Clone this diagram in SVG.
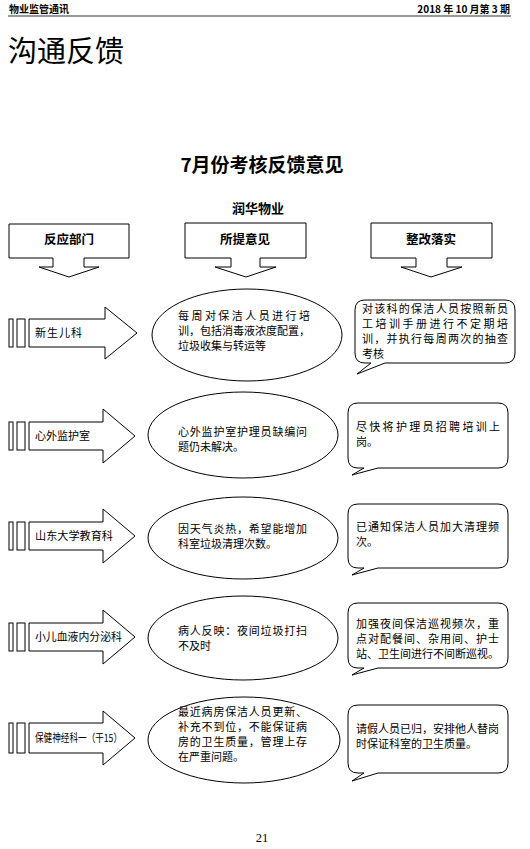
<svg xmlns="http://www.w3.org/2000/svg" width="530" height="849" viewBox="0 0 530 849">
<style>
text{font-family:"Noto Sans CJK SC","Liberation Sans",sans-serif;fill:#000}
.hd{font-size:10px;font-weight:bold}
.b{font-size:12.5px;font-weight:bold}
.t{font-size:11px}
.sh{fill:#fff;stroke:#000;stroke-width:1}
</style>
<rect width="530" height="849" fill="#fff"/>
<g id="header">
<text class="hd" x="9" y="13">物业监管通讯</text>
<text class="hd" x="510" y="13" text-anchor="end">2018 年 10 月第 3 期</text>
<line x1="8" y1="16" x2="511" y2="16" stroke="#333" stroke-width="1.2"/>
<text x="8" y="62" style="font-size:29px">沟通反馈</text>
<text x="262" y="172" text-anchor="middle" style="font-size:19px;font-weight:bold">7月份考核反馈意见</text>
<text class="b" x="258" y="213" text-anchor="middle" style="font-size:13px">润华物业</text>
<text x="262" y="842" text-anchor="middle" style="font-family:'Liberation Serif',serif;font-size:12.5px">21</text>
</g>
<g id="col1">
<path class="sh" d="M9,224H129V258H84V267H99L69,277L39,267H53V258H9Z"/>
<text class="b" x="69" y="244" text-anchor="middle">反应部门</text>
</g>
<g id="col2">
<path class="sh" d="M185,223H306V258H260V267H276L246,277L215,267H231V258H185Z"/>
<text class="b" x="245" y="244" text-anchor="middle">所提意见</text>
</g>
<g id="col3">
<path class="sh" d="M371,223H492V258H447V267H462L431,277L401,267H416V258H371Z"/>
<text class="b" x="431" y="244" text-anchor="middle">整改落实</text>
</g>

<g id="dept1" transform="translate(0,333)">
<rect class="sh" x="9" y="-14" width="4" height="28"/><rect class="sh" x="17" y="-14" width="8" height="28"/>
<path class="sh" d="M29,-14H105V-26L137,0L105,26V14H29Z"/>
<text class="t" x="35" y="4" textLength="47" lengthAdjust="spacing">新生儿科</text>
</g>
<g id="dept2" transform="translate(0,436)">
<rect class="sh" x="9" y="-14" width="4" height="28"/><rect class="sh" x="17" y="-14" width="8" height="28"/>
<path class="sh" d="M29,-14H103V-27L135,0L103,27V14H29Z"/>
<text class="t" x="35" y="4" textLength="55" lengthAdjust="spacing">心外监护室</text>
</g>
<g id="dept3" transform="translate(0,536)">
<rect class="sh" x="9" y="-14" width="4" height="28"/><rect class="sh" x="17" y="-14" width="8" height="28"/>
<path class="sh" d="M29,-14H103V-27L135,0L103,27V14H29Z"/>
<text class="t" x="35" y="4" textLength="78" lengthAdjust="spacingAndGlyphs">山东大学教育科</text>
</g>
<g id="dept4" transform="translate(0,637)">
<rect class="sh" x="9" y="-14" width="4" height="28"/><rect class="sh" x="17" y="-14" width="8" height="28"/>
<path class="sh" d="M29,-14H103V-27L135,0L103,27V14H29Z"/>
<text class="t" x="35" y="4" textLength="87" lengthAdjust="spacingAndGlyphs">小儿血液内分泌科</text>
</g>
<g id="dept5" transform="translate(0,738)">
<rect class="sh" x="9" y="-15" width="4" height="30"/><rect class="sh" x="17" y="-15" width="8" height="30"/>
<path class="sh" d="M29,-15H103V-27L135,0L103,27V15H29Z"/>
<text class="t" x="35" y="4" textLength="87" lengthAdjust="spacingAndGlyphs">保健神经科一（干15）</text>
</g>

<g id="op1">
<ellipse class="sh" cx="247" cy="335" rx="95" ry="46"/>
<text class="t" x="178" y="320" textLength="132" lengthAdjust="spacing">每周对保洁人员进行培</text>
<text class="t" x="178" y="335" textLength="132" lengthAdjust="spacing">训，包括消毒液浓度配置，</text>
<text class="t" x="178" y="350">垃圾收集与转运等</text>
</g>
<g id="op2">
<ellipse class="sh" cx="243" cy="435" rx="95" ry="43"/>
<text class="t" x="178" y="436" textLength="129" lengthAdjust="spacing">心外监护室护理员缺编问</text>
<text class="t" x="178" y="451">题仍未解决。</text>
</g>
<g id="op3">
<ellipse class="sh" cx="243" cy="538" rx="95" ry="41"/>
<text class="t" x="178" y="533" textLength="129" lengthAdjust="spacing">因天气炎热，希望能增加</text>
<text class="t" x="178" y="548">科室垃圾清理次数。</text>
</g>
<g id="op4">
<ellipse class="sh" cx="243" cy="638" rx="95" ry="42"/>
<text class="t" x="178" y="635" textLength="129" lengthAdjust="spacing">病人反映：夜间垃圾打扫</text>
<text class="t" x="178" y="650">不及时</text>
</g>
<g id="op5">
<ellipse class="sh" cx="244" cy="740" rx="96" ry="43"/>
<text class="t" x="178" y="716" textLength="129" lengthAdjust="spacing">最近病房保洁人员更新、</text>
<text class="t" x="178" y="731" textLength="129" lengthAdjust="spacing">补充不到位，不能保证病</text>
<text class="t" x="178" y="746" textLength="129" lengthAdjust="spacing">房的卫生质量，管理上存</text>
<text class="t" x="178" y="761">在严重问题。</text>
</g>

<g id="fix1">
<path class="sh" d="M365,300H505Q515,300 515,310V353Q515,363 505,363H385L357,374L371,363H365Q355,363 355,353V310Q355,300 365,300Z"/>
<text class="t" x="362" y="313" textLength="146" lengthAdjust="spacing">对该科的保洁人员按照新员</text>
<text class="t" x="362" y="328" textLength="146" lengthAdjust="spacing">工培训手册进行不定期培</text>
<text class="t" x="362" y="343" textLength="146" lengthAdjust="spacing">训，并执行每周两次的抽查</text>
<text class="t" x="362" y="358">考核</text>
</g>
<g id="fix2">
<path class="sh" d="M358,403H498Q508,403 508,413V458Q508,468 498,468H378L352,475L364,468H358Q348,468 348,458V413Q348,403 358,403Z"/>
<text class="t" x="356" y="431" textLength="144" lengthAdjust="spacing">尽快将护理员招聘培训上</text>
<text class="t" x="356" y="446">岗。</text>
</g>
<g id="fix3">
<path class="sh" d="M358,504H498Q508,504 508,514V558Q508,568 498,568H378L352,575L364,568H358Q348,568 348,558V514Q348,504 358,504Z"/>
<text class="t" x="356" y="531" textLength="143" lengthAdjust="spacing">已通知保洁人员加大清理频</text>
<text class="t" x="356" y="546">次。</text>
</g>
<g id="fix4">
<path class="sh" d="M358,603H498Q508,603 508,613V658Q508,668 498,668H378L352,675L364,668H358Q348,668 348,658V613Q348,603 358,603Z"/>
<text class="t" x="356" y="628" textLength="143" lengthAdjust="spacing">加强夜间保洁巡视频次，重</text>
<text class="t" x="356" y="643" textLength="143" lengthAdjust="spacing">点对配餐间、杂用间、护士</text>
<text class="t" x="356" y="658" textLength="143" lengthAdjust="spacing">站、卫生间进行不间断巡视。</text>
</g>
<g id="fix5">
<path class="sh" d="M358,705H498Q508,705 508,715V763Q508,773 498,773H378L352,781L364,773H358Q348,773 348,763V715Q348,705 358,705Z"/>
<text class="t" x="356" y="733" textLength="143" lengthAdjust="spacing">请假人员已归，安排他人替岗</text>
<text class="t" x="356" y="748">时保证科室的卫生质量。</text>
</g>
<g id="connectors"></g>
</svg>
